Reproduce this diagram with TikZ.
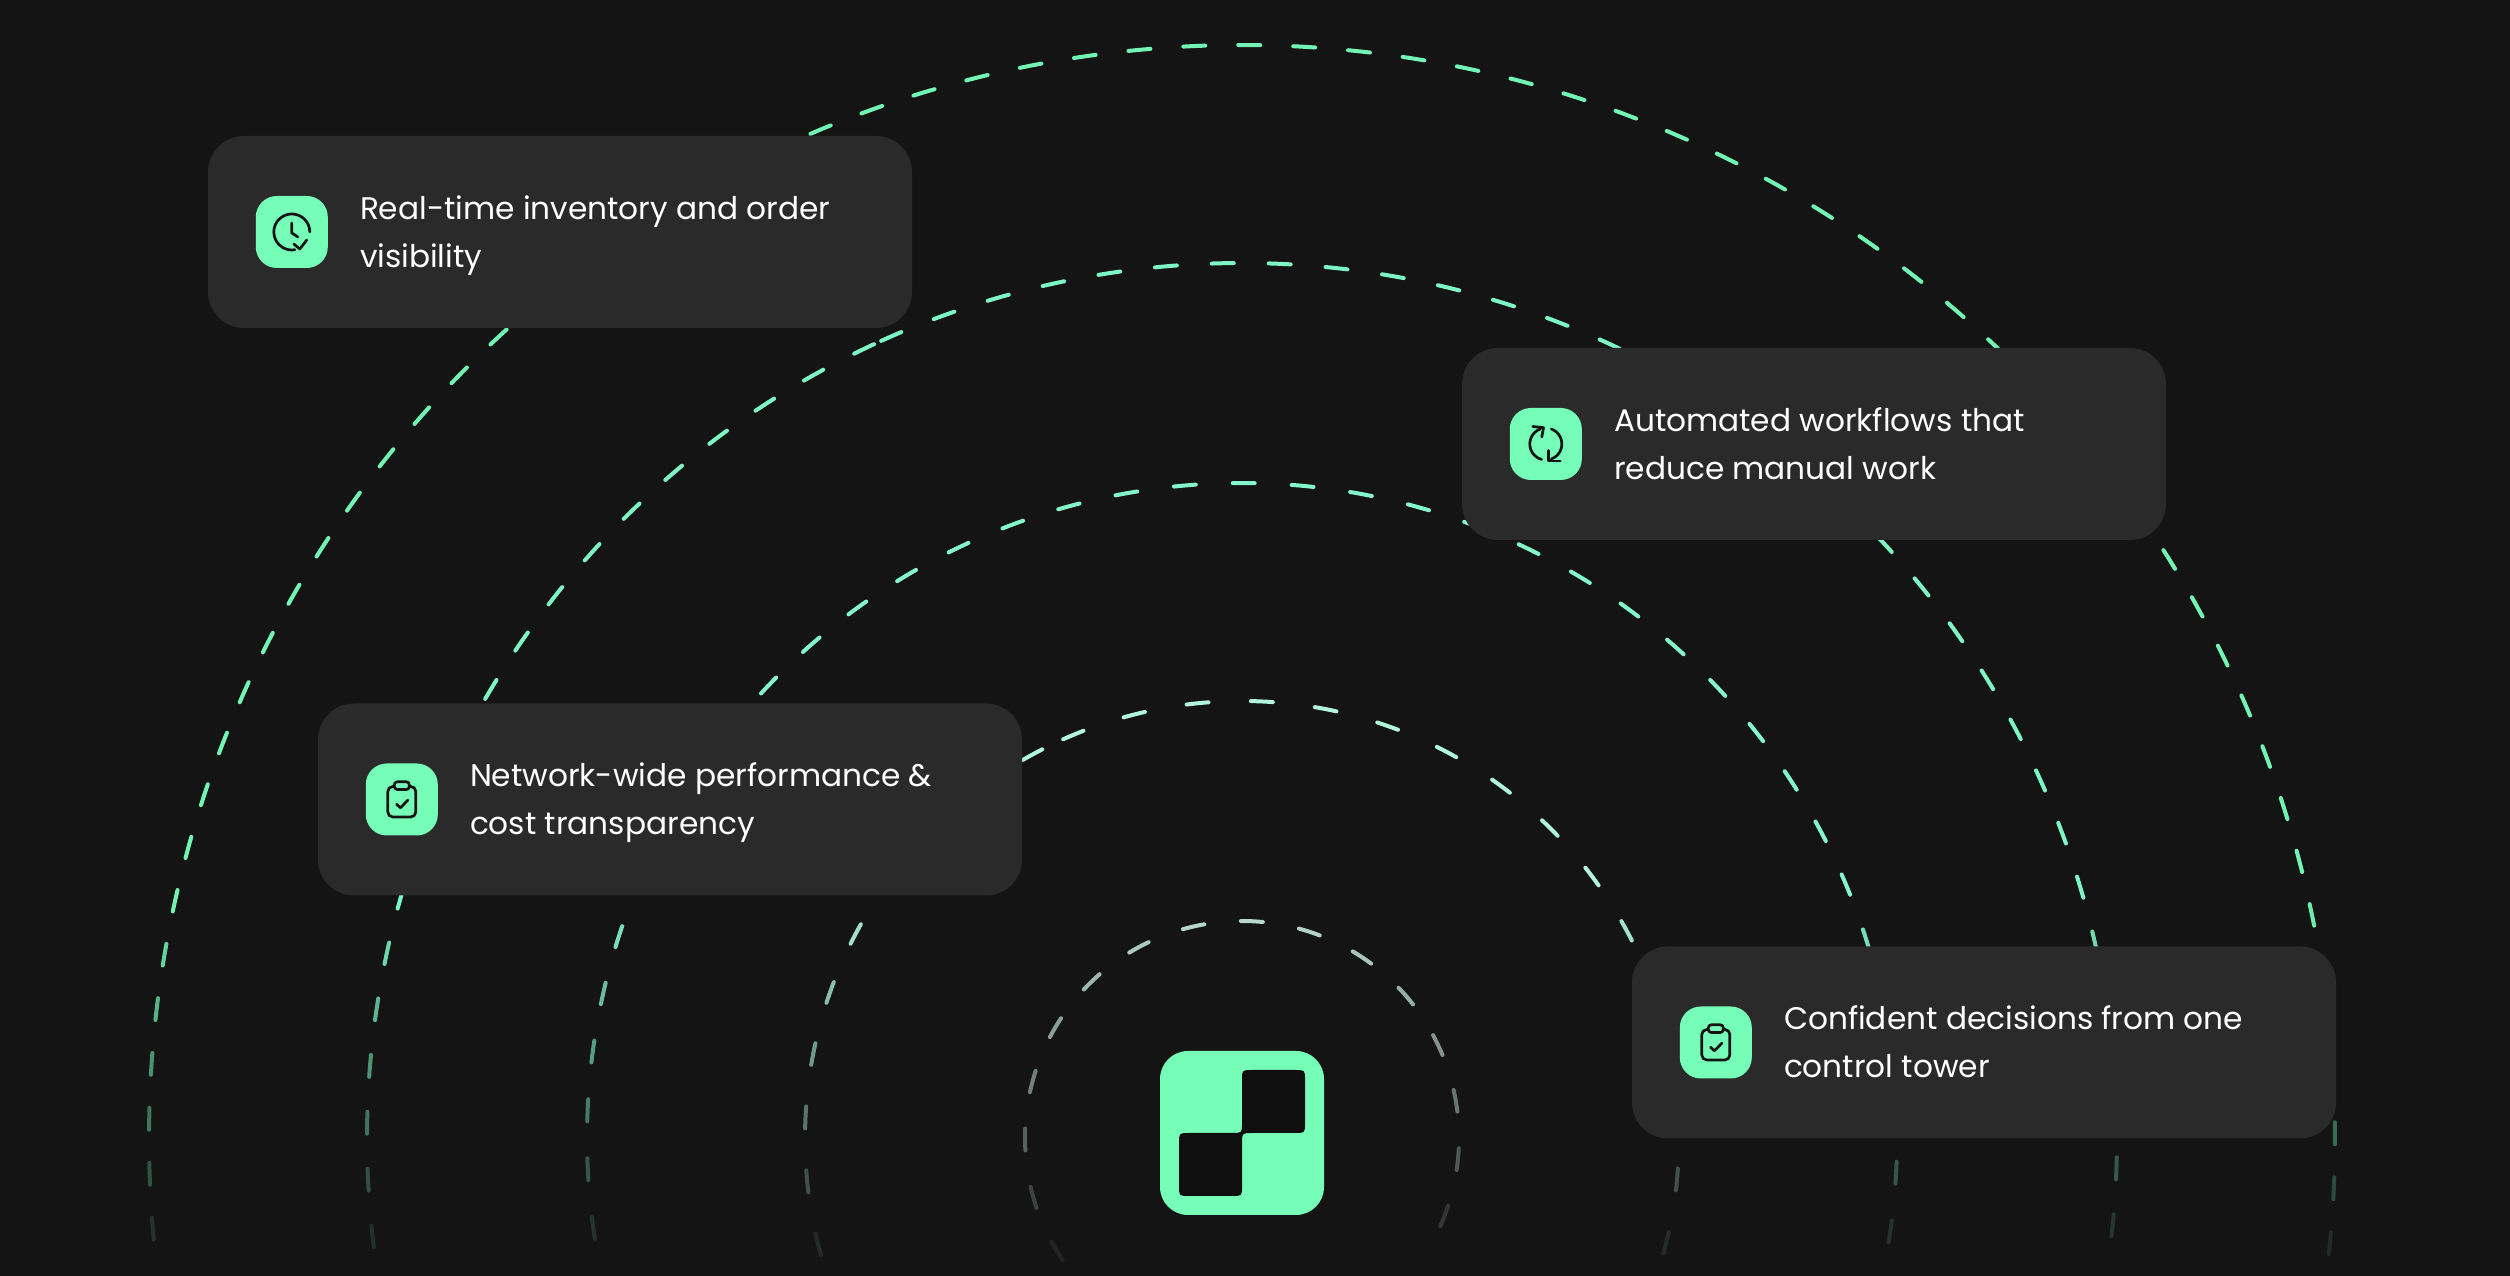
\documentclass[tikz,border=0pt]{standalone}
\usepackage{fontspec}
\setmainfont{Poppins}
\definecolor{bgdark}{HTML}{141414}
\definecolor{cardgrey}{HTML}{2A2A2A}
\definecolor{mint}{HTML}{76FDB8}
\definecolor{holedark}{HTML}{0F0F0F}
\definecolor{ringa}{HTML}{72F5B4}
\definecolor{ringb}{HTML}{7DF5C4}
\definecolor{ringc}{HTML}{85F5CC}
\definecolor{ringd}{HTML}{B0F5DC}
\definecolor{ringe}{HTML}{C4E4D8}
\begin{document}
\begin{tikzpicture}[x=1pt,y=1pt]
\tikzstyle{ringdash} = [line width=4pt, line cap=round]
\tikzstyle{card} = [draw=none, fill=cardgrey, rounded corners=36pt, minimum width=704pt, minimum height=192pt, inner sep=0]
\tikzstyle{iconbox} = [draw=none, fill=mint, rounded corners=21pt, minimum size=72pt, inner sep=0]
\tikzstyle{cardtext} = [anchor=west, align=left, inner sep=0, text=white, text height=79pt, text depth=8pt, font=\fontsize{31.2}{48}\selectfont]
\tikzstyle{glyph} = [draw=bgdark, line width=2.7pt, line cap=round, line join=round]

\useasboundingbox (0,0) rectangle (2510,1276);
\fill [bgdark] (0,0) rectangle (2510,1276);

% rings: radius/angle/period/first/last/colour
\foreach \r/\a/\p/\na/\nb/\c in {1093/89.62/2.883/-33/33/ringa,
	875/91.26/3.73/-26/6/ringb, 875/179/3.73/-17/2/ringb,
	655/89.85/5.16/-19/19/ringc,
	437/87.4/8.44/-12/3/ringd, 437/177.3/8.38/-7/2/ringd,
	217/87.4/15.5/-7/8/ringe}
{
	\foreach \k in {\na,...,\nb}
	{
		\pgfmathsetmacro\ang{\a+\k*\p}
		\pgfmathsetmacro\h{11/\r*57.3}
		\pgfmathsetmacro\yy{138+\r*sin(\ang)}
		\pgfmathsetmacro\op{max(0,min(1,(\yy+9)/387))}
		\draw [ringdash, color=\c, opacity=\op] ({1242+\r*cos(\ang-\h)},{138+\r*sin(\ang-\h)})
			arc [start angle=\ang-\h, end angle=\ang+\h, radius=\r];
	}
}

% logo
\node [draw=none, fill=mint, rounded corners=28pt, minimum size=164pt, inner sep=0] (logo) at (1242,143) {};
\fill [holedark, shift={(logo.center)}] (0,53) -- (0,10) .. controls (0,0) .. (-10,0) -- (-53,0)
	.. controls (-63,0) .. (-63,-10) -- (-63,-53) .. controls (-63,-63) .. (-53,-63) -- (-10,-63)
	.. controls (0,-63) .. (0,-53) -- (0,-10) .. controls (0,0) .. (10,0) -- (53,0)
	.. controls (63,0) .. (63,10) -- (63,53) .. controls (63,63) .. (53,63) -- (10,63)
	.. controls (0,63) .. (0,53) -- cycle;

% cards
\node [card] (c1) at (560,1044) {};
\node [card] (c2) at (1814,832) {};
\node [card] (c3) at (670,476.5) {};
\node [card] (c4) at (1984,233.5) {};
\node [iconbox] (i1) at ([xshift=84pt]c1.west) {};
\node [iconbox] (i2) at ([xshift=84pt]c2.west) {};
\node [iconbox] (i3) at ([xshift=84pt]c3.west) {};
\node [iconbox] (i4) at ([xshift=84pt]c4.west) {};
\node [cardtext] (t1) at ([xshift=152pt]c1.west) {Real-time inventory and order\\visibility};
\node [cardtext] (t2) at ([xshift=152pt]c2.west) {Automated workflows that\\reduce manual work};
\node [cardtext] (t3) at ([xshift=152pt]c3.west) {Network-wide performance \&\\cost transparency};
\node [cardtext] (t4) at ([xshift=152pt]c4.west) {Confident decisions from one\\control tower};

% clock
\begin{scope}[shift={(i1.center)}]
\draw [glyph] (18,0) arc [start angle=0, end angle=280, radius=18];
\draw [glyph] (0,9) -- (0,-1) -- (6,-5);
\draw [glyph] (2,-12) -- (8,-17) -- (15,-8);
\end{scope}

% cycle
\begin{scope}[shift={(i2.center)}]
\draw [glyph] (-5.5,15) arc [start angle=110, end angle=255, radius=16];
\draw [glyph] (5.5,15) arc [start angle=70, end angle=-70, radius=16];
\draw [glyph] (-13,17.5) -- (-2.3,16.3) -- (-4,7);
\draw [glyph] (2.7,-6.5) -- (2.7,-17) -- (14.5,-17);
\end{scope}

% clipboards
\foreach \i in {i3,i4}
{
	\begin{scope}[shift={(\i.center)}]
	\draw [glyph, rounded corners=5pt] (-7.5,13) -- (-14,13) -- (-14,-17.5) -- (14,-17.5) -- (14,13) -- (7.5,13);
	\draw [glyph, rounded corners=3pt] (-7.5,10) rectangle (7.5,17.7);
	\draw [glyph] (-5.3,-4.7) -- (-1.3,-8.3) -- (6,-0.7);
	\end{scope}
}
\end{tikzpicture}
\end{document}
